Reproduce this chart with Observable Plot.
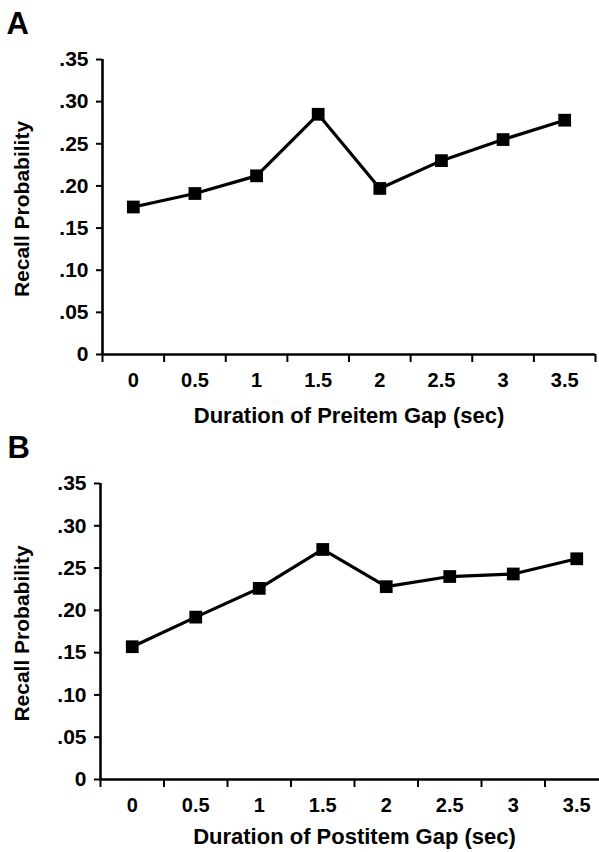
<!DOCTYPE html>
<html>
<head>
<meta charset="utf-8">
<script src="https://cdn.jsdelivr.net/npm/d3@7"></script>
<script src="https://cdn.jsdelivr.net/npm/@observablehq/plot@0.6"></script>
<style>
  html, body { margin: 0; padding: 0; background: #fff; }
  #chart { width: 599px; height: 852px; overflow: hidden; }
  #chart svg { display: block; }
</style>
</head>
<body>
<div id="chart"></div>
<script>
// ---- data ----
const gaps = [0, 0.5, 1, 1.5, 2, 2.5, 3, 3.5];
const gapLabels = ["0", "0.5", "1", "1.5", "2", "2.5", "3", "3.5"];
const recallPreitem = [0.175, 0.191, 0.212, 0.285, 0.197, 0.230, 0.255, 0.278];
const recallPostitem = [0.157, 0.192, 0.226, 0.272, 0.228, 0.240, 0.243, 0.261];
const yTicks = [0, 0.05, 0.10, 0.15, 0.20, 0.25, 0.30, 0.35];
const yTickLabels = ["0", ".05", ".10", ".15", ".20", ".25", ".30", ".35"];
const panelLetters = ["A", "B"];
const xTitles = ["Duration of Preitem Gap (sec)", "Duration of Postitem Gap (sec)"];
const yTitle = "Recall Probability";

const FONT = "'Liberation Sans', Arial, Helvetica, sans-serif";
const step = gaps[1] - gaps[0];
const boundaries = gaps.map(g => g - step / 2).concat([gaps[gaps.length - 1] + step / 2]);
const xDomain = [boundaries[0], boundaries[boundaries.length - 1]];

function panel(values, letter, xTitle, layout) {
  const data = gaps.map((g, i) => ({gap: g, recall: values[i]}));
  return Plot.plot({
    width: 599,
    height: layout.height,
    marginTop: layout.top,
    marginBottom: layout.bottom,
    marginLeft: layout.left,
    marginRight: layout.right,
    style: {fontFamily: FONT, fontSize: "19px", fontWeight: "bold", color: "#000", background: "none", overflow: "hidden"},
    x: {domain: xDomain, axis: null},
    y: {domain: [0, 0.35], axis: null},
    marks: [
      // axis lines
      Plot.ruleY([0], {x1: xDomain[0], x2: xDomain[1], stroke: "#000", strokeWidth: 2.6}),
      Plot.ruleX([xDomain[0]], {y1: 0, y2: 0.35, stroke: "#000", strokeWidth: 2.6}),
      // y ticks + labels
      Plot.axisY({ticks: yTicks, tickFormat: (d, i) => yTickLabels[i], tickSize: 6, tickPadding: 8,
                  fontSize: 21, strokeWidth: 2, stroke: "#000", label: null}),
      // x ticks at category boundaries
      Plot.axisX({ticks: boundaries, tickFormat: () => "", tickSize: 8, strokeWidth: 2, stroke: "#000", label: null}),
      // x labels at category centres
      Plot.axisX({ticks: gaps, tickFormat: (d, i) => gapLabels[i], tickSize: 0, tickPadding: 18,
                  fontSize: 20, label: null}),
      // series
      Plot.line(data, {x: "gap", y: "recall", stroke: "#000", strokeWidth: 3.2}),
      Plot.dot(data, {x: "gap", y: "recall", symbol: "square", r: 7.2, fill: "#000", stroke: "none"}),
      // titles
      Plot.text([xTitle], {frameAnchor: "bottom", dy: layout.xTitleDy, fontSize: 22, fill: "#000",
                           textAnchor: "middle", lineAnchor: "middle"}),
      Plot.text([yTitle], {frameAnchor: "left", dx: layout.yTitleDx, dy: 2, rotate: -90, fontSize: 21, fill: "#000",
                           textAnchor: "middle", lineAnchor: "middle"}),
      Plot.text([letter], {frameAnchor: "top-left", dx: layout.letterDx, dy: layout.letterDy, fontSize: 31,
                           fontWeight: 900, fill: "#000", textAnchor: "start", lineAnchor: "middle"})
    ]
  });
}

const chart = document.getElementById("chart");
chart.append(panel(recallPreitem, panelLetters[0], xTitles[0],
  {height: 428, top: 59, bottom: 74, left: 102, right: 4, xTitleDy: 61, yTitleDx: -80, letterDx: -96, letterDy: -35}));
chart.append(panel(recallPostitem, panelLetters[1], xTitles[1],
  {height: 424, top: 55, bottom: 73, left: 100, right: -9, xTitleDy: 57, yTitleDx: -78, letterDx: -93, letterDy: -35.5}));
</script>
</body>
</html>
